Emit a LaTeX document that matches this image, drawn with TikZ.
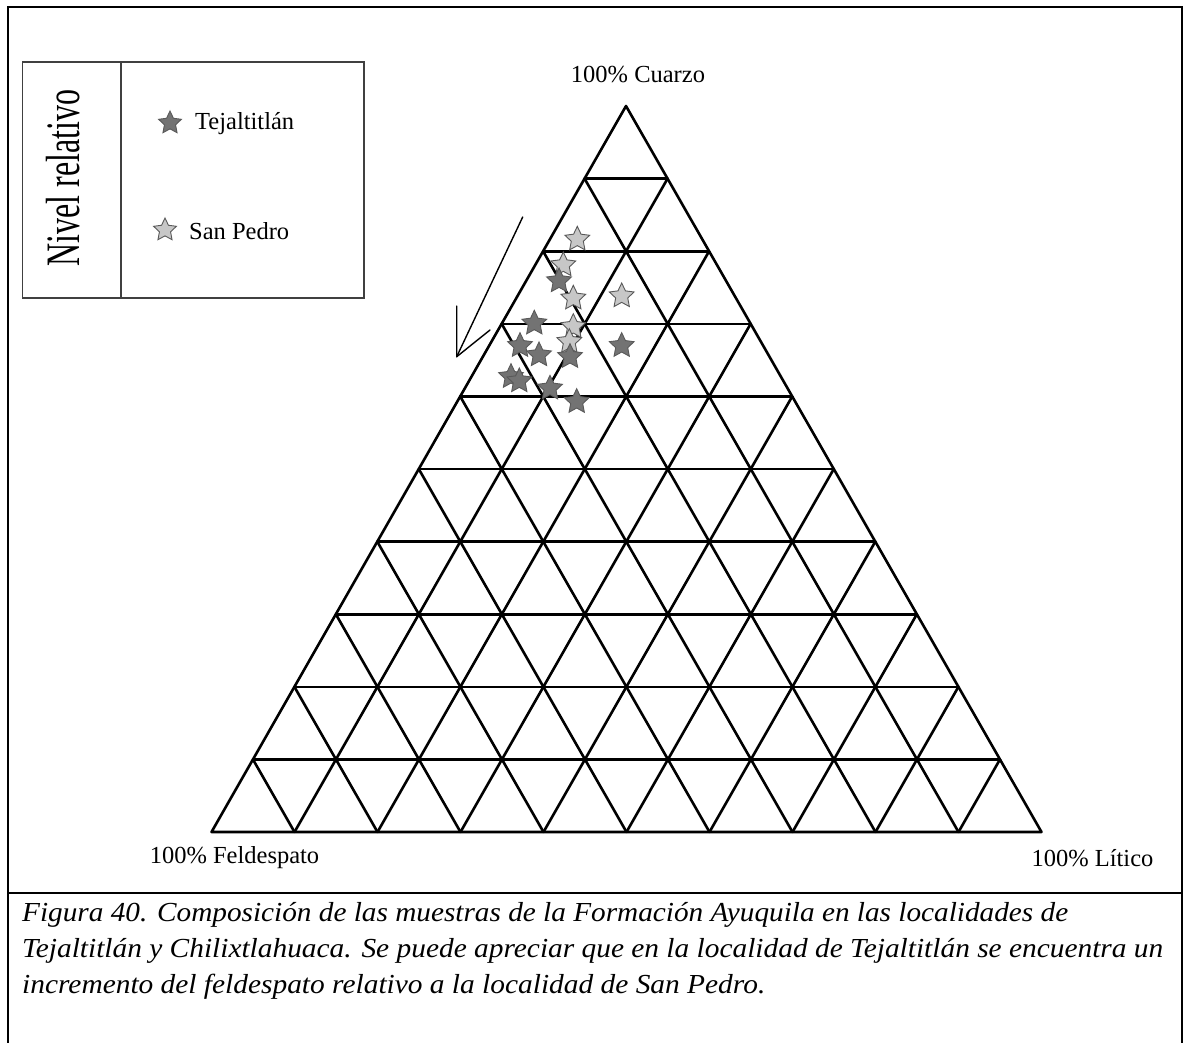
\documentclass[tikz,border=0pt]{standalone}
\usepackage{fontspec}
\setmainfont{Liberation Serif}
\usetikzlibrary{shapes.geometric,calc}

\begin{document}
\begin{tikzpicture}[x=1pt,y=-1pt,
  frame/.style={line width=2.6pt, black},
  grid/.style={line width=2.6pt, black, line cap=round, line join=round},
  lbl/.style={inner sep=0pt, font=\fontsize{24.5}{28}\selectfont},
  mstar/.style={star, star points=5, star point ratio=2.05, minimum size=26pt,
    inner sep=0pt, draw=black!65, line width=0.9pt},
  tstar/.style={mstar, fill=black!55},
  sstar/.style={mstar, fill=black!22},
  capline/.style={anchor=base west, inner sep=0pt,
    font=\fontsize{27.5}{36}\selectfont\itshape}]

\useasboundingbox (0,0) rectangle (1186,1042);

% outer frame and caption divider
\draw[frame] (8,1046) -- (8,7) -- (1182,7) -- (1182,1046);
\draw[frame] (8,893) -- (1182,893);

% legend box
\draw[line width=1.3pt, black!75] (22.5,62) rectangle (364,298);
\draw[line width=1.3pt, black!75] (121,62) -- (121,298);
\node[rotate=90, inner sep=0pt] (nivel) at (63,178)
  {\scalebox{1}[1.5]{\fontsize{32}{36}\selectfont Nivel relativo}};
\node[tstar, minimum size=24pt] (legT) at (170,123) {};
\node[lbl, anchor=west] (legTtxt) at (195,124) {Tejaltitlán};
\node[sstar, minimum size=24pt] (legS) at (165,230) {};
\node[lbl, anchor=west] (legStxt) at (189,231) {San Pedro};

% ternary diagram corners
\coordinate (A) at (626,106);
\coordinate (L) at (211.5,832);
\coordinate (R) at (1041.5,832);

% grid lines
\foreach \k in {1,...,9} {
  \draw[grid] ($(L)!\k/10!(A)$) -- ($(R)!\k/10!(A)$);
  \draw[grid] ($(L)!\k/10!(R)$) -- ($(L)!\k/10!(A)$);
  \draw[grid] ($(R)!\k/10!(L)$) -- ($(R)!\k/10!(A)$);
}
\draw[grid] (A) -- (L) -- (R) -- cycle;

% vertex labels
\node[lbl] (cuarzo) at (638,75) {100\% Cuarzo};
\node[lbl] (feld) at (234.5,858) {100\% Feldespato};
\node[lbl] (litico) at (1092.5,858) {100\% Lítico};

% trend arrow
\coordinate (arS) at (522.7,217);
\coordinate (arE) at (456.7,356.7);
\coordinate (barbA) at (456.7,306);
\coordinate (barbB) at (490,330);
\draw[line width=1.4pt, line cap=round] (arS) -- (arE);
\draw[line width=1.4pt, line cap=round, line join=round] (barbA) -- (arE) -- (barbB);

% samples: San Pedro
\node[sstar] (s1) at (577.3,239.3) {};
\node[sstar] (s2) at (563.3,265) {};
\node[tstar] (t1) at (559,281) {};
\node[sstar] (s3) at (573.3,298.3) {};
\node[sstar] (s4) at (621.7,296) {};
\node[sstar] (s5) at (573.3,326.7) {};
\node[sstar] (s6) at (569.3,341.7) {};

% samples: Tejaltitlán
\node[tstar] (t2) at (534.3,323.3) {};
\node[tstar] (t3) at (520,345.7) {};
\node[tstar] (t4) at (539,355) {};
\node[tstar] (t5) at (570,356.7) {};
\node[tstar] (t6) at (621.7,345.7) {};
\node[tstar] (t7) at (511,376.7) {};
\node[tstar] (t8) at (519.3,381) {};
\node[tstar] (t9) at (550,388.3) {};
\node[tstar] (t10) at (576.7,401.7) {};

% caption, each line set to its printed width
\node[capline] (cap1) at (22,921) {\resizebox{1046pt}{\height}{Figura 40. Composición de las muestras de la Formación Ayuquila en las localidades de}};
\node[capline] (cap2) at (22,957) {\resizebox{1141pt}{\height}{Tejaltitlán y Chilixtlahuaca. Se puede apreciar que en la localidad de Tejaltitlán se encuentra un}};
\node[capline] (cap3) at (22,993) {\resizebox{743pt}{\height}{incremento del feldespato relativo a la localidad de San Pedro.}};
\end{tikzpicture}
\end{document}
